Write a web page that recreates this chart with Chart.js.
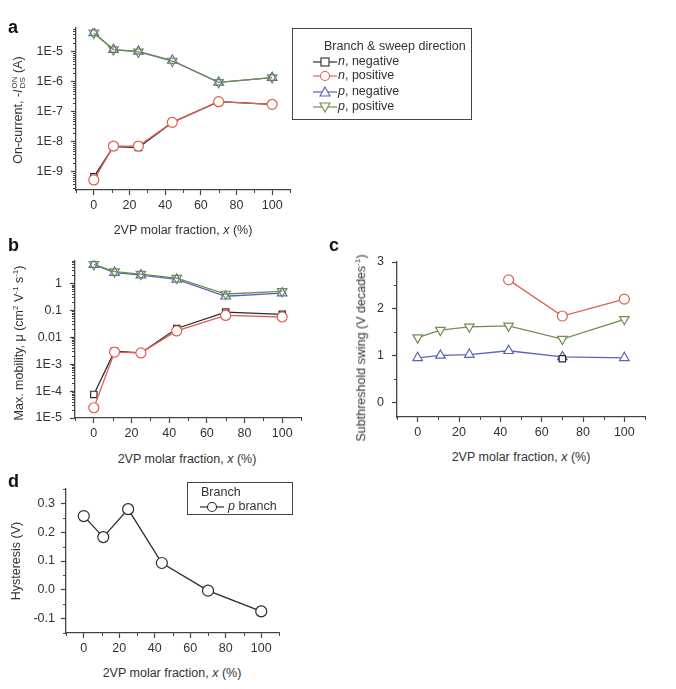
<!DOCTYPE html>
<html>
<head>
<meta charset="utf-8">
<script src="https://cdn.jsdelivr.net/npm/chart.js@4.4.1/dist/chart.umd.min.js"></script>
<style>
body { margin: 0; background: #fff; width: 676px; height: 689px; position: relative; overflow: hidden;
       font-family: "Liberation Sans", Arial, sans-serif; color: #333; }
canvas { position: absolute; }
.t { position: absolute; white-space: nowrap; font-size: 12.5px; line-height: 1; }
.yt { transform: translate(-50%, -50%) rotate(-90deg); }
.xt { transform: translate(-50%, -50%); }
.lab { position: absolute; font-weight: bold; font-size: 18px; color: #111; line-height: 1; }
.leg { position: absolute; border: 1.3px solid #444; box-sizing: border-box; font-size: 12.5px; }
.leg .row { position: absolute; left: 0; white-space: nowrap; line-height: 1; }
.leg svg { position: absolute; }
.ss { display: inline-flex; flex-direction: column; font-size: 8px; line-height: 8px; vertical-align: middle; margin-left: 1px; }
sup { font-size: 8px; }
</style>
</head>
<body>

<canvas id="chartA" width="300" height="210" style="left:0;top:10px"></canvas>
<canvas id="chartB" width="310" height="200" style="left:0;top:245px"></canvas>
<canvas id="chartC" width="340" height="200" style="left:320px;top:245px"></canvas>
<canvas id="chartD" width="300" height="190" style="left:0;top:475px"></canvas>

<div class="lab" style="left:8px;top:18px">a</div>
<div class="lab" style="left:8px;top:236px">b</div>
<div class="lab" style="left:329px;top:236px">c</div>
<div class="lab" style="left:8px;top:472px">d</div>

<div class="t yt" style="left:19px;top:110px">On-current, -<i>I</i><span class="ss"><span>ON</span><span>DS</span></span> (A)</div>
<div class="t xt" style="left:183px;top:230px">2VP molar fraction, <i>x</i> (%)</div>
<div class="t yt" style="left:19px;top:343px">Max. mobility, μ (cm<sup>2</sup> V<sup>-1</sup> s<sup>-1</sup>)</div>
<div class="t xt" style="left:187px;top:459px">2VP molar fraction, <i>x</i> (%)</div>
<div class="t yt" style="left:361px;top:348px">Subthreshold swing (V decades<sup>-1</sup>)</div>
<div class="t xt" style="left:521px;top:457px">2VP molar fraction, <i>x</i> (%)</div>
<div class="t yt" style="left:16px;top:561px">Hysteresis (V)</div>
<div class="t xt" style="left:172px;top:673px">2VP molar fraction, <i>x</i> (%)</div>

<div class="leg" id="legA" style="left:292px;top:28px;width:180px;height:92px"></div>
<div class="leg" id="legD" style="left:187px;top:482px;width:106px;height:33px"></div>

<script>
// ======== Data ========
const molarFraction = [0, 11, 25, 44, 70, 100];

// a: on-current (A)
const onNNeg = [6.9e-10, 7.0e-9, 6.5e-9, 4.5e-8, 2.2e-7, 1.8e-7];
const onNPos = [5.4e-10, 7.3e-9, 7.3e-9, 4.5e-8, 2.2e-7, 1.8e-7];
const onPNeg = [4.3e-5, 1.2e-5, 1.05e-5, 5.2e-6, 9.7e-7, 1.4e-6];
const onPPos = [4.3e-5, 1.2e-5, 1.0e-5, 5.0e-6, 9.7e-7, 1.4e-6];

// b: max mobility (cm2/Vs)
const muNNeg = [7.5e-5, 3.0e-3, 2.6e-3, 0.021, 0.085, 0.07];
const muNPos = [2.4e-5, 2.8e-3, 2.6e-3, 0.017, 0.064, 0.056];
const muPNeg = [4.9, 2.5, 2.0, 1.4, 0.33, 0.43];
const muPPos = [5.0, 2.7, 2.2, 1.56, 0.4, 0.5];

// c: subthreshold swing (V/dec)
const ssNNeg = [null, null, null, null, 0.94, null];
const ssNPos = [null, null, null, 2.62, 1.85, 2.21];
const ssPNeg = [0.96, 1.01, 1.03, 1.11, 0.98, 0.96];
const ssPPos = [1.39, 1.55, 1.62, 1.64, 1.36, 1.78];

// d: hysteresis (V)
const hystP = [0.256, 0.183, 0.28, 0.093, -0.003, -0.075];

// tick labels
const xTicks = [0, 20, 40, 60, 80, 100];
const xMinor = [-10, 10, 30, 50, 70, 90, 110];
const aYTicks = [1e-9, 1e-8, 1e-7, 1e-6, 1e-5];
const aYLabels = ['1E-9', '1E-8', '1E-7', '1E-6', '1E-5'];
const bYTicks = [1e-5, 1e-4, 1e-3, 0.01, 0.1, 1];
const bYLabels = ['1E-5', '1E-4', '1E-3', '0.01', '0.1', '1'];
const cYTicks = [0, 1, 2, 3];
const cYMinor = [-0.5, 0.5, 1.5, 2.5];
const dYTicks = [-0.1, 0.0, 0.1, 0.2, 0.3];
const dYLabels = ['-0.1', '0.0', '0.1', '0.2', '0.3'];
const dYMinor = [-0.15, -0.05, 0.05, 0.15, 0.25, 0.35];

const axisColor = '#444';
const font = { family: '"Liberation Sans", Arial, sans-serif', size: 12.5 };

const styles = {
    nNeg: { color: '#2b2b2b', pointStyle: 'rect', radius: 4.5, rotation: 0, order: 2 },
    nPos: { color: '#e0604f', pointStyle: 'circle', radius: 5, rotation: 0, order: 1 },
    pNeg: { color: '#5a64b4', pointStyle: 'triangle', radius: 5.5, rotation: 0, order: 2 },
    pPos: { color: '#6f8f4f', pointStyle: 'triangle', radius: 5.5, rotation: 180, order: 1 }
};

function series(values, key, fill) {
    const s = styles[key];
    return {
        data: molarFraction.map((x, i) => ({ x: x, y: values[i] })),
        borderColor: s.color,
        borderWidth: 1.3,
        pointStyle: s.pointStyle,
        pointRotation: s.rotation,
        pointRadius: s.radius,
        pointBorderWidth: 1.2,
        pointBorderColor: s.color,
        pointBackgroundColor: fill || '#fff',
        order: s.order,
        spanGaps: false
    };
}

function logMinor(lo, hi) {
    const out = [];
    for (let e = lo; e <= hi; e++) for (let m = 2; m <= 9; m++) out.push(m * Math.pow(10, e));
    return out;
}

// ======== Minor tick marks ========
const minorTicks = {
    id: 'minorTicks',
    afterDraw(chart, args, opts) {
        const ctx = chart.ctx;
        const xs = chart.scales.x, ys = chart.scales.y;
        ctx.save();
        ctx.strokeStyle = axisColor;
        ctx.lineWidth = 1;
        ctx.beginPath();
        (opts.x || []).forEach(v => {
            const px = Math.round(xs.getPixelForValue(v)) + 0.5;
            ctx.moveTo(px, xs.top); ctx.lineTo(px, xs.top + 3);
        });
        (opts.y || []).forEach(v => {
            if (v < ys.min || v > ys.max) return;
            const py = Math.round(ys.getPixelForValue(v)) + 0.5;
            ctx.moveTo(ys.right, py); ctx.lineTo(ys.right - 3, py);
        });
        ctx.stroke();
        ctx.restore();
    }
};

function makeChart(id, box, area, datasets, yScale, yMinor, yPad) {
    const [cx, cy, cw, ch] = box;
    const [L, T, R, B] = area;
    const grid = { display: true, drawOnChartArea: false, drawTicks: true, tickLength: 5,
                   color: axisColor, tickColor: axisColor, tickWidth: 1.2 };
    const border = { display: true, color: axisColor, width: 1.3 };
    yScale.grid = grid;
    yScale.border = border;
    yScale.afterFit = s => { s.width = L - cx; };
    yScale.ticks = Object.assign({ color: '#333', font: font, padding: yPad, autoSkip: false }, yScale.ticks);
    return new Chart(document.getElementById(id), {
        type: 'line',
        data: { datasets: datasets },
        options: {
            responsive: false,
            animation: false,
            events: [],
            layout: { padding: { left: 0, top: T - cy, right: cx + cw - R, bottom: 0 } },
            plugins: {
                legend: { display: false },
                tooltip: { enabled: false },
                minorTicks: { x: xMinor, y: yMinor }
            },
            scales: {
                x: {
                    type: 'linear', min: -10, max: 110,
                    grid: grid, border: border,
                    afterBuildTicks: s => { s.ticks = xTicks.map(v => ({ value: v })); },
                    afterFit: s => { s.height = cy + ch - B; },
                    ticks: { color: '#333', font: font, padding: 3, autoSkip: false, maxRotation: 0 }
                },
                y: yScale
            }
        },
        plugins: [minorTicks]
    });
}

// ======== Panel a ========
makeChart('chartA', [0, 10, 300, 210], [76, 28, 290, 190], [
    series(onNNeg, 'nNeg'), series(onNPos, 'nPos'),
    series(onPNeg, 'pNeg'), series(onPPos, 'pPos', 'rgba(255,255,255,0)')
], {
    type: 'logarithmic', min: 2.5e-10, max: 6.3e-5,
    afterBuildTicks: s => { s.ticks = aYTicks.map(v => ({ value: v })); },
    ticks: { callback: (v, i) => aYLabels[i] }
}, logMinor(-10, -5), 8);

// ======== Panel b ========
makeChart('chartB', [0, 245, 310, 200], [75, 258, 301, 418], [
    series(muNNeg, 'nNeg'), series(muNPos, 'nPos'),
    series(muPNeg, 'pNeg'), series(muPPos, 'pPos', 'rgba(255,255,255,0)')
], {
    type: 'logarithmic', min: 1e-5, max: 7,
    afterBuildTicks: s => { s.ticks = bYTicks.map(v => ({ value: v })); },
    ticks: { callback: (v, i) => bYLabels[i] }
}, logMinor(-5, 0), 8);

// ======== Panel c ========
makeChart('chartC', [320, 245, 340, 200], [397, 262, 645, 417], [
    series(ssNNeg, 'nNeg'), series(ssNPos, 'nPos'),
    series(ssPNeg, 'pNeg'), series(ssPPos, 'pPos')
], {
    type: 'linear', min: -0.3, max: 3,
    afterBuildTicks: s => { s.ticks = cYTicks.map(v => ({ value: v })); }
}, cYMinor, 8);

// ======== Panel d ========
const hystSet = series(hystP, 'nNeg');
hystSet.pointStyle = 'circle';
hystSet.pointRadius = 5.5;
makeChart('chartD', [0, 475, 300, 190], [66, 489, 279, 633], [hystSet], {
    type: 'linear', min: -0.15, max: 0.35,
    afterBuildTicks: s => { s.ticks = dYTicks.map(v => ({ value: v })); },
    ticks: { callback: (v, i) => dYLabels[i] }
}, dYMinor, 6);

// ======== Legends ========
function marker(key, x, y) {
    const s = styles[key];
    let shape = '';
    if (s.pointStyle === 'rect') shape = `<rect x="8" y="${y - 4}" width="8" height="8" fill="#fff" stroke="${s.color}" stroke-width="1.1"/>`;
    else if (s.pointStyle === 'circle') shape = `<circle cx="12" cy="${y}" r="4.5" fill="#fff" stroke="${s.color}" stroke-width="1.1"/>`;
    else if (s.rotation === 0) shape = `<polygon points="12,${y - 5} 17,${y + 4} 7,${y + 4}" fill="#fff" stroke="${s.color}" stroke-width="1.1"/>`;
    else shape = `<polygon points="12,${y + 5} 17,${y - 4} 7,${y - 4}" fill="#fff" stroke="${s.color}" stroke-width="1.1"/>`;
    return `<svg style="left:${x}px;top:0" width="24" height="120"><line x1="0" y1="${y}" x2="24" y2="${y}" stroke="${s.color}" stroke-width="1.2"/>${shape}</svg>`;
}

const legARows = [
    ['nNeg', '<i>n</i>, negative', 33],
    ['nPos', '<i>n</i>, positive', 47],
    ['pNeg', '<i>p</i>, negative', 63],
    ['pPos', '<i>p</i>, positive', 78]
];
let legA = '<div class="row" style="left:31px;top:11px">Branch &amp; sweep direction</div>';
legARows.forEach(r => {
    legA += marker(r[0], 20, r[2]);
    legA += `<div class="row" style="left:45px;top:${r[2] - 7}px">${r[1]}</div>`;
});
document.getElementById('legA').innerHTML = legA;

styles.hyst = { color: '#2b2b2b', pointStyle: 'circle', rotation: 0 };
document.getElementById('legD').innerHTML =
    '<div class="row" style="left:13px;top:3px">Branch</div>' +
    marker('hyst', 12, 24) +
    '<div class="row" style="left:40px;top:17px"><i>p</i> branch</div>';
</script>
</body>
</html>
